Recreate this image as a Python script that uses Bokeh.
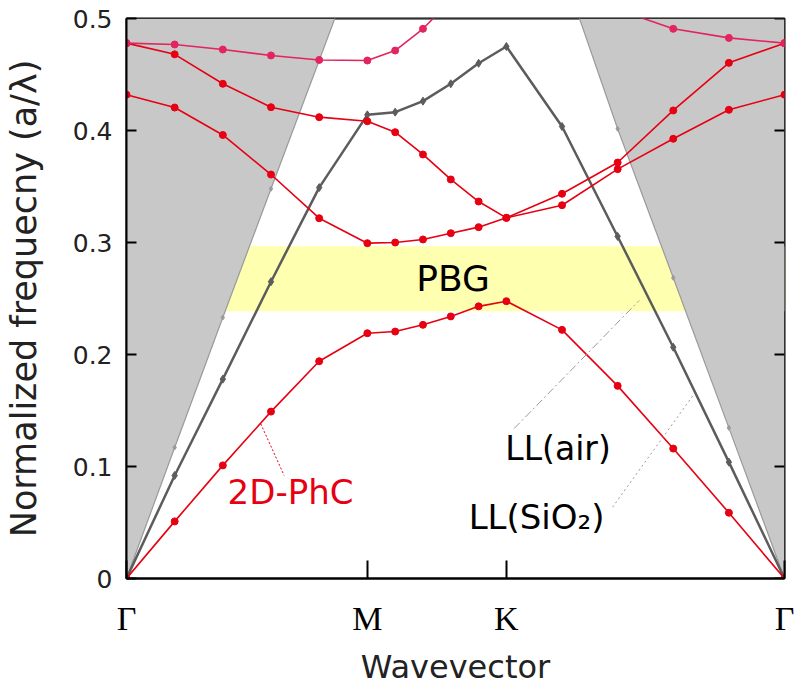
from bokeh.plotting import figure
from bokeh.models import Range1d, FixedTicker
from bokeh.core.properties import value
from bokeh.embed import file_html
from bokeh.resources import INLINE

# ---- data -------------------------------------------------------------
# wavevector path positions (Gamma -> M -> K -> Gamma)
k = [0.0, 0.1155, 0.2309, 0.3464, 0.4619, 0.5774,
     0.6441, 0.7107, 0.7774, 0.8441, 0.9107,
     1.0441, 1.1774, 1.3107, 1.4441, 1.5774]
sym_pos = [0.0, 0.5774, 0.9107, 1.5774]
sym_labels = ["Γ", "M", "K", "Γ"]

band1 = [0.0, 0.051, 0.101, 0.149, 0.194, 0.219, 0.2205, 0.2265, 0.234, 0.243,
         0.2476, 0.222, 0.172, 0.116, 0.0587, 0.0]
band2 = [0.432, 0.4205, 0.396, 0.3607, 0.3217, 0.2994, 0.300, 0.3027, 0.3083,
         0.3137, 0.322, 0.3333, 0.3655, 0.3926, 0.4185, 0.432]
band3 = [0.478, 0.468, 0.4417, 0.4208, 0.4119, 0.4083, 0.3985, 0.3786, 0.3563,
         0.3366, 0.322, 0.3435, 0.3714, 0.4179, 0.4604, 0.478]
band4 = [0.478, 0.4768, 0.4723, 0.467, 0.463, 0.4625, 0.4714, 0.4908, 0.516,
         0.535, 0.545, 0.53, 0.508, 0.4908, 0.4827, 0.478]
ll_air = [0.0, 0.092, 0.178, 0.265, 0.349, 0.414, 0.4164, 0.4262, 0.4417, 0.460,
          0.475, 0.4036, 0.3054, 0.2065, 0.1039, 0.0]
ll_sio2 = [0.0, 0.117, 0.233, 0.348, 0.4625, 0.578, 0.588, 0.602, 0.62, 0.64,
           0.667, 0.545, 0.4015, 0.2685, 0.1345, 0.0]

pbg = [0.2387, 0.2967]
y_max = 0.5
y_ticks = [0.0, 0.1, 0.2, 0.3, 0.4, 0.5]
y_tick_labels = ["0", "0.1", "0.2", "0.3", "0.4", "0.5"]

# annotation leader lines (data coordinates)
lead_phc_x = [0.3218, 0.3779]
lead_phc_y = [0.1381, 0.0920]
lead_air_x = [0.9293, 1.2289]
lead_air_y = [0.1339, 0.2482]
lead_sio2_x = [1.1652, 1.3610]
lead_sio2_y = [0.0637, 0.1649]

# ---- styles -----------------------------------------------------------
RED = "#e60012"
PINK = "#e2245f"
DGREY = "#5c5c5c"
LGREY = "#9a9a9a"
SHADE = "#c8c8c8"
YELLOW = "#ffffb0"
SANS = "DejaVu Sans"
FRAME_W, FRAME_H = 658, 560

p = figure(frame_width=FRAME_W, frame_height=FRAME_H,
           x_range=Range1d(k[0], k[-1]), y_range=Range1d(0, y_max),
           output_backend="svg", toolbar_location=None,
           min_border_left=123, min_border_right=10,
           min_border_top=18, min_border_bottom=98)
p.xgrid.visible = False
p.ygrid.visible = False
p.outline_line_color = "black"
p.outline_line_width = 2
p.background_fill_color = "white"

# PBG band
p.quad(left=k[0], right=k[-1], bottom=pbg[0], top=pbg[1],
       fill_color=YELLOW, line_color=None)
# light cone shading
p.varea(x=k, y1=ll_sio2, y2=[y_max] * len(k), fill_color=SHADE)

# light lines
p.line(k, ll_sio2, line_color=LGREY, line_width=1.2)
p.scatter(k, ll_sio2, size=5, color=LGREY, marker="diamond")
p.line(k, ll_air, line_color=DGREY, line_width=2.5)
p.scatter(k, ll_air, size=8, color=DGREY, marker="diamond")

# photonic bands
for band, col in [(band1, RED), (band2, RED), (band3, RED), (band4, PINK)]:
    p.line(k, band, line_color=col, line_width=1.6)
    p.scatter(k, band, size=7, color=col)

# leader lines
p.line(lead_phc_x, lead_phc_y, line_color=RED, line_width=1, line_dash="2 2")
p.line(lead_air_x, lead_air_y, line_color=LGREY, line_width=1, line_dash="8 3 2 3")
p.line(lead_sio2_x, lead_sio2_y, line_color=LGREY, line_width=1, line_dash="2 3")

# inward ticks on the right frame edge
tick_len = 10 * (k[-1] - k[0]) / FRAME_W
p.segment(x0=[k[-1]] * len(y_ticks), y0=y_ticks,
          x1=[k[-1] - tick_len] * len(y_ticks), y1=y_ticks,
          line_color="black", line_width=2)

# annotations
p.text(x=[0.7828], y=[0.2675], text=["PBG"], text_font=value(SANS),
       text_font_size="36px", text_color="black", text_align="center",
       text_baseline="alphabetic")
p.text(x=[1.0345], y=[0.1165], text=["LL(air)"], text_font=value(SANS),
       text_font_size="33px", text_color="black", text_align="center",
       text_baseline="alphabetic")
p.text(x=[0.983], y=[0.0545], text=["LL(SiO₂)"], text_font=value(SANS),
       text_font_size="34px", text_color="black", text_align="center",
       text_baseline="alphabetic")
p.text(x=[0.3932], y=[0.0775], text=["2D-PhC"], text_font=value(SANS),
       text_font_size="34px", text_color=RED, text_align="center",
       text_baseline="alphabetic")

# axes
xa = p.xaxis[0]
xa.ticker = FixedTicker(ticks=sym_pos)
xa.major_label_overrides = {v: s for v, s in zip(sym_pos, sym_labels)}
xa.major_tick_in = 18
xa.major_tick_out = 0
xa.minor_tick_line_color = None
xa.axis_line_width = 2
xa.major_tick_line_width = 2
xa.major_label_text_font = "Liberation Serif"
xa.major_label_text_font_size = "34px"
xa.major_label_text_color = "black"
xa.major_label_standoff = 21
xa.axis_label = "Wavevector"
xa.axis_label_text_font = SANS
xa.axis_label_text_font_style = "normal"
xa.axis_label_text_font_size = "32px"
xa.axis_label_text_color = "#222222"
xa.axis_label_standoff = 8

ya = p.yaxis[0]
ya.ticker = FixedTicker(ticks=y_ticks)
ya.major_label_overrides = {v: s for v, s in zip(y_ticks, y_tick_labels)}
ya.major_tick_in = 10
ya.major_tick_out = 0
ya.minor_tick_line_color = None
ya.axis_line_width = 2
ya.major_tick_line_width = 2
ya.major_label_text_font = SANS
ya.major_label_text_font_size = "25px"
ya.major_label_text_color = "#222222"
ya.major_label_standoff = 14
ya.axis_label = "Normalized frequecny (a/λ)"
ya.axis_label_text_font = SANS
ya.axis_label_text_font_style = "normal"
ya.axis_label_text_font_size = "35px"
ya.axis_label_text_color = "#222222"
ya.axis_label_standoff = 26

open("out.html", "w").write(file_html(p, INLINE))
